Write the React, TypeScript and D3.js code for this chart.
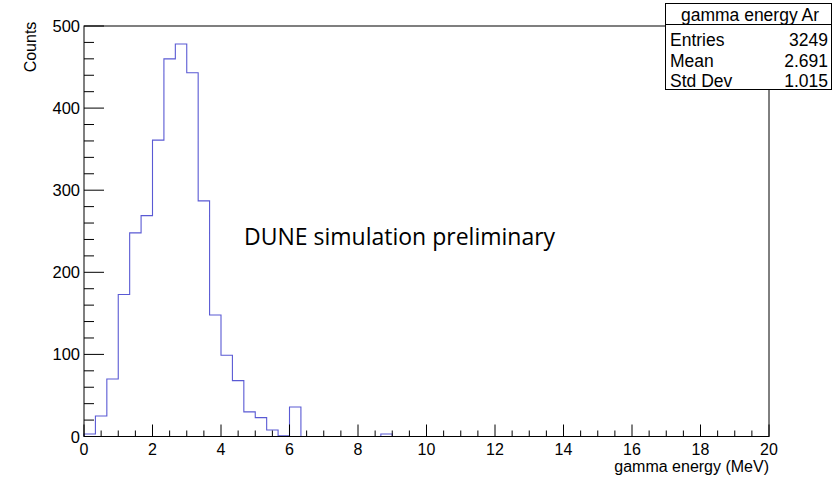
import React from "react";
import * as d3 from "d3";

const binLow = 0;
const binHigh = 20;
const nBins = 60;
// counts per 1/3 MeV bin (bins beyond this list are empty)
const counts: number[] = [
  3, 25, 70, 173, 248, 269, 361, 460, 478, 443,
  287, 148, 99, 68, 30, 23, 8, 1, 36, 0,
  0, 0, 0, 0, 0, 0, 3, 0, 0, 0,
];
const xTicks = [0, 2, 4, 6, 8, 10, 12, 14, 16, 18, 20];
const yTicks = [0, 100, 200, 300, 400, 500];
const statsTitle = "gamma energy Ar";
const statsLabels = ["Entries", "Mean", "Std Dev"];
const statsValues = ["3249", "2.691", "1.015"];
const xTitle = "gamma energy (MeV)";
const yTitle = "Counts";
const annotation = "DUNE simulation preliminary";

const W = 833;
const H = 479;
const L = 84, R = 769, T = 26, B = 436.5;

export default function App() {
  const x = d3.scaleLinear().domain([binLow, binHigh]).range([L, R]);
  const y = d3.scaleLinear().domain([0, 500]).range([B, T]);
  const bw = (binHigh - binLow) / nBins;
  const full = d3.range(nBins).map((i) => counts[i] ?? 0);

  const pts: [number, number][] = [[x(0), y(0)]];
  full.forEach((c, i) => {
    pts.push([x(i * bw), y(c)]);
    pts.push([x((i + 1) * bw), y(c)]);
  });
  pts.push([x(binHigh), y(0)]);
  const path = d3.line()(pts) as string;

  const xMinor = d3.range(0, 20.001, 0.5);
  const yMinor = d3.range(0, 500.001, 20);
  const font = "'Liberation Sans', Arial, Helvetica, sans-serif";

  return (
    <svg
      width={W}
      height={H}
      style={{ position: "absolute", left: 0, top: 0, background: "#fff" }}
    >
      <rect x={0} y={0} width={W} height={H} fill="#fff" />
      {/* histogram */}
      <path d={path} fill="none" stroke="#5a5ad4" strokeWidth={1.1} />
      {/* frame */}
      <rect x={L} y={T} width={R - L} height={B - T} fill="none" stroke="#000" strokeWidth={1} />
      {/* x ticks */}
      {xMinor.map((v) => {
        const major = Math.abs(v / 2 - Math.round(v / 2)) < 1e-6;
        return (
          <line key={"xm" + v} x1={x(v)} x2={x(v)} y1={B} y2={B - (major ? 12 : 6)} stroke="#000" strokeWidth={1} />
        );
      })}
      {xTicks.map((v) => (
        <text key={"xt" + v} x={x(v)} y={B + 18} textAnchor="middle" fontFamily={font} fontSize={16} fill="#000">
          {v}
        </text>
      ))}
      {/* y ticks */}
      {yMinor.map((v) => {
        const major = v % 100 === 0;
        return (
          <line key={"ym" + v} x1={L} x2={L + (major ? 20 : 10)} y1={y(v)} y2={y(v)} stroke="#000" strokeWidth={1} />
        );
      })}
      {yTicks.map((v) => (
        <text key={"yt" + v} x={L - 4} y={y(v) + 6} textAnchor="end" fontFamily={font} fontSize={16.5} fill="#000">
          {v}
        </text>
      ))}
      {/* axis titles */}
      <text x={R} y={472} textAnchor="end" fontFamily={font} fontSize={16} fill="#000">
        {xTitle}
      </text>
      <text
        transform={`translate(36,${47}) rotate(-90)`}
        textAnchor="middle"
        fontFamily={font}
        fontSize={16}
        fill="#000"
      >
        {yTitle}
      </text>
      {/* annotation */}
      <text x={244} y={245} fontFamily="'Open Sans', sans-serif" fontSize={23} fill="#000">
        {annotation}
      </text>
      {/* stats box */}
      <rect x={665.5} y={3.5} width={166} height={86} fill="#fff" stroke="#000" strokeWidth={1} />
      <line x1={665.5} x2={831.5} y1={24.5} y2={24.5} stroke="#000" strokeWidth={1} />
      <text x={750} y={21} textAnchor="middle" fontFamily={font} fontSize={17.5} fill="#000">
        {statsTitle}
      </text>
      {statsLabels.map((lab, i) => (
        <g key={lab}>
          <text x={670} y={46 + i * 20.5} fontFamily={font} fontSize={17.5} fill="#000">
            {lab}
          </text>
          <text x={828} y={46 + i * 20.5} textAnchor="end" fontFamily={font} fontSize={17.5} fill="#000">
            {statsValues[i]}
          </text>
        </g>
      ))}
    </svg>
  );
}
